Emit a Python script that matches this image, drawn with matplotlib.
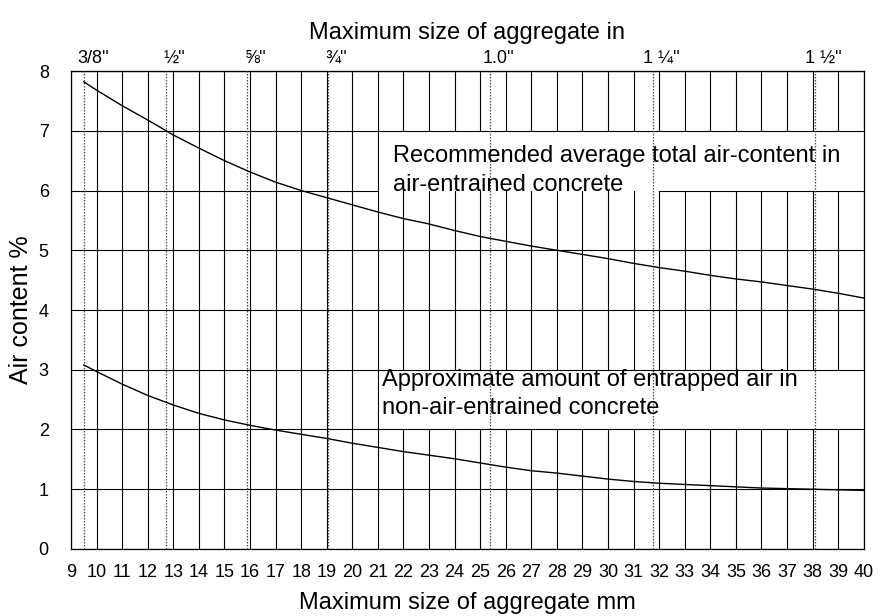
import numpy as np
import matplotlib
matplotlib.use("Agg")
import matplotlib.pyplot as plt
from matplotlib.patches import Rectangle
from matplotlib.transforms import ScaledTranslation

plt.rcParams['font.family'] = ['Liberation Sans', 'DejaVu Sans']

# maximum aggregate size (mm) and air content (%)
size_mm = [9.5, 10, 11, 12, 13, 14, 15, 16, 17, 18, 19, 20, 21, 22, 23, 24,
           25, 26, 27, 28, 29, 30, 31, 32, 33, 34, 35, 36, 37, 38, 39, 40]
air_entrained = [7.82, 7.68, 7.42, 7.18, 6.93, 6.71, 6.50, 6.31, 6.14, 6.00,
                 5.88, 5.76, 5.64, 5.53, 5.44, 5.33, 5.23, 5.15, 5.07, 5.00,
                 4.93, 4.86, 4.78, 4.71, 4.65, 4.58, 4.52, 4.47, 4.41, 4.35,
                 4.28, 4.20]
entrapped = [3.08, 2.97, 2.76, 2.57, 2.41, 2.27, 2.16, 2.07, 1.99, 1.92,
             1.85, 1.77, 1.70, 1.63, 1.57, 1.51, 1.44, 1.37, 1.31, 1.27,
             1.22, 1.17, 1.13, 1.10, 1.08, 1.06, 1.04, 1.02, 1.01, 1.00,
             0.99, 0.98]

inch_sizes = [3 / 8, 1 / 2, 5 / 8, 3 / 4, 1.0, 1.25, 1.5]
inch_labels = ["3/8''", "\u00bd''", "\u215d''", "\u00be''", "1.0''",
               "1 \u00bc''", "1 \u00bd''"]
mm_ticks = list(range(9, 41))
y_ticks = list(range(0, 9))

label_up = "Recommended average total air-content in\nair-entrained concrete"
label_low = "Approximate amount of entrapped air in\nnon-air-entrained concrete"

fig = plt.figure(figsize=(8.85, 6.16), dpi=100)
ax = fig.add_axes([0.0802, 0.1088, 0.976 - 0.0802, 0.8847 - 0.1088])
ax.set_xlim(9, 40)
ax.set_ylim(0, 8)

# grid: verticals under the text boxes, horizontals over them
for x in mm_ticks:
    ax.axvline(x, color="k", lw=0.8, zorder=1)
for y in y_ticks:
    if y == 6:
        ax.plot([9, 21], [6, 6], color="k", lw=0.8, zorder=3)
        ax.plot([32, 40], [6, 6], color="k", lw=0.8, zorder=3)
    else:
        ax.axhline(y, color="k", lw=0.8, zorder=3)

# white boxes behind the notes
ax.add_patch(Rectangle((21.04, 6.0), 18.96, 1.0, facecolor="white",
                       edgecolor="none", zorder=2))
ax.add_patch(Rectangle((21.04, 2.0), 18.96, 1.0, facecolor="white",
                       edgecolor="none", zorder=2))

# inch sizes as dotted lines
inch_mm = [v * 25.4 for v in inch_sizes]
for x in inch_mm:
    ax.axvline(x, color="0.3", lw=0.9, ls=(0, (1.2, 1.2)), zorder=4)

ax.plot(size_mm, air_entrained, color="k", lw=1.0, zorder=5)
ax.plot(size_mm, entrapped, color="k", lw=1.0, zorder=5)

ax.text(21.6, 6.76, label_up, fontsize=17, va="top", ha="left",
        linespacing=1.38, zorder=6)
ax.text(21.15, 3.02, label_low, fontsize=17, va="top", ha="left",
        linespacing=1.38, zorder=6)

ax.set_xticks(mm_ticks)
ax.set_yticks(y_ticks)
ax.tick_params(axis="x", length=0, pad=11, labelsize=13)
ax.tick_params(axis="y", length=0, pad=16, labelsize=13)
ax.set_xlabel("Maximum size of aggregate mm", fontsize=17, labelpad=8)
ax.set_ylabel("Air content %", fontsize=18, labelpad=4)
for s in ax.spines.values():
    s.set_linewidth(0.9)

top = ax.secondary_xaxis("top")
top.set_xticks(inch_mm)
top.set_xticklabels(inch_labels)
top.tick_params(length=0, pad=3, labelsize=13)
top.set_xlabel("Maximum size of aggregate in", fontsize=17, labelpad=8)
off = ScaledTranslation(6 / 72, 0, fig.dpi_scale_trans)
for lbl in top.get_xticklabels():
    lbl.set_transform(lbl.get_transform() + off)

fig.savefig("out.png", dpi=100)
